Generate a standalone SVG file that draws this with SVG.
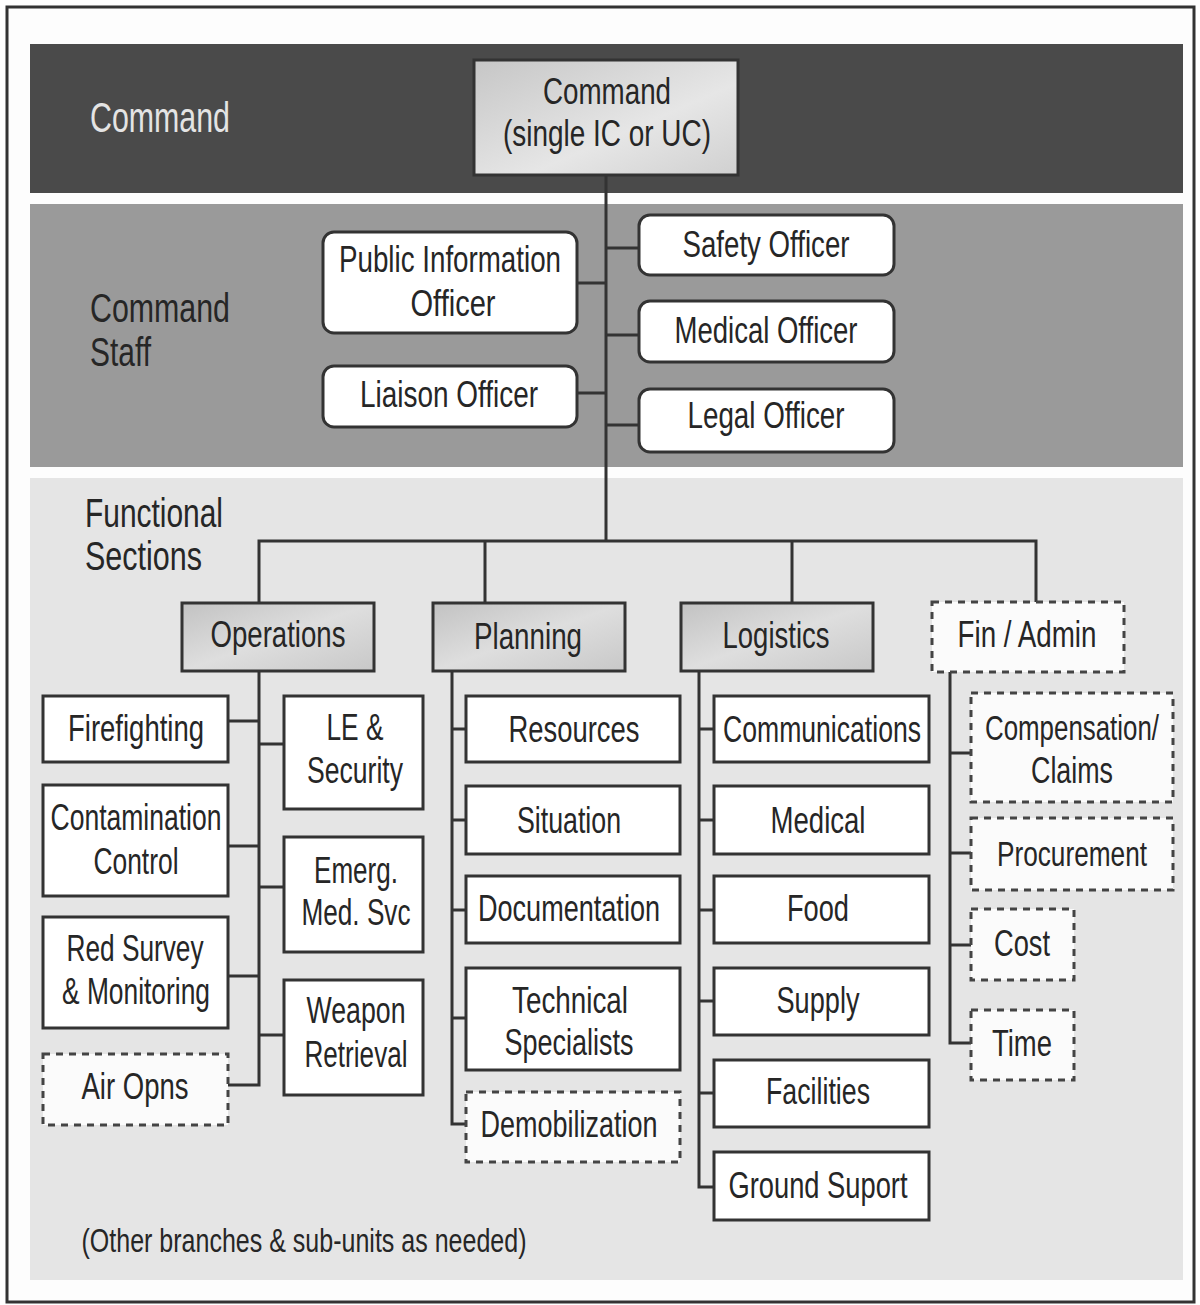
<svg xmlns="http://www.w3.org/2000/svg" width="1200" height="1305" viewBox="0 0 1200 1305">
<style>
.box{fill:#fff;stroke:#333;stroke-width:3}
.rbox{fill:#fff;stroke:#333;stroke-width:3}
.dash{fill:#fbfbfb;stroke:#444;stroke-width:3;stroke-dasharray:7 6}
.hdr{fill:url(#hg);stroke:#333;stroke-width:3}
.t{font-family:"Liberation Sans",Arial,Helvetica,sans-serif;font-size:37px;fill:#262626;text-anchor:middle}
.lbl{font-family:"Liberation Sans",Arial,Helvetica,sans-serif;font-size:40px;fill:#262626}
.conn{stroke:#333;stroke-width:3;fill:none}
</style>
<defs>
<linearGradient id="hg" x1="0" y1="0" x2="1" y2="1">
<stop offset="0" stop-color="#c2c2c2"/>
<stop offset="0.5" stop-color="#dedede"/>
<stop offset="1" stop-color="#c8c8c8"/>
</linearGradient>
<linearGradient id="cg" x1="0" y1="0" x2="1" y2="1">
<stop offset="0" stop-color="#c6c6c6"/>
<stop offset="0.6" stop-color="#e6e6e6"/>
<stop offset="1" stop-color="#d0d0d0"/>
</linearGradient>
</defs>

<g id="background">
<rect x="7" y="7" width="1187" height="1295" fill="#fdfdfd" stroke="#333" stroke-width="3"/>
<rect x="30" y="44" width="1153" height="149" fill="#4a4a4a"/>
<rect x="30" y="204" width="1153" height="263" fill="#9a9a9a"/>
<rect x="30" y="478" width="1153" height="802" fill="#e5e5e5"/>
<text class="lbl" x="90" y="132" textLength="140" lengthAdjust="spacingAndGlyphs" style="fill:#e4e4e4;font-size:42px">Command</text>
<text class="lbl" x="90" y="322" textLength="140" lengthAdjust="spacingAndGlyphs">Command</text>
<text class="lbl" x="90" y="366" textLength="61" lengthAdjust="spacingAndGlyphs">Staff</text>
<text class="lbl" x="85" y="527" textLength="138" lengthAdjust="spacingAndGlyphs">Functional</text>
<text class="lbl" x="85" y="570" textLength="117" lengthAdjust="spacingAndGlyphs">Sections</text>
<text class="t" x="304" y="1252" textLength="445" lengthAdjust="spacingAndGlyphs" style="font-size:34px">(Other branches &amp; sub-units as needed)</text>
</g>

<g id="connectors">
<path class="conn" d="M606 175V541"/>
<path class="conn" d="M577 283H606M577 393H606"/>
<path class="conn" d="M606 248H638M606 335H638M606 425H638"/>
<path class="conn" d="M259 603V541H1036V602M485 541V603M792 541V603"/>
<path class="conn" d="M259 671V1085H228M228 721H259M228 846H259M228 976H259M259 744H284M259 887H284M259 1035H284"/>
<path class="conn" d="M452 671V1124H466M452 729H466M452 820H466M452 910H466M452 1018H466"/>
<path class="conn" d="M699 671V1187H714M699 729H714M699 820H714M699 910H714M699 1001H714M699 1093H714"/>
<path class="conn" d="M950 672V1043H972M950 753H972M950 853H972M950 945H972"/>
</g>

<g id="command">
<rect x="474" y="60" width="264" height="115" fill="url(#cg)" stroke="#333" stroke-width="3"/>
<text class="t" x="607" y="104" textLength="128" lengthAdjust="spacingAndGlyphs">Command</text>
<text class="t" x="607" y="146" textLength="208" lengthAdjust="spacingAndGlyphs">(single IC or UC)</text>
</g>

<g id="pio">
<rect class="rbox" x="323" y="232" width="254" height="101" rx="11"/>
<text class="t" x="450" y="272" textLength="222" lengthAdjust="spacingAndGlyphs">Public Information</text>
<text class="t" x="453" y="316" textLength="85" lengthAdjust="spacingAndGlyphs">Officer</text>
</g>
<g id="liaison">
<rect class="rbox" x="323" y="366" width="254" height="61" rx="11"/>
<text class="t" x="449" y="407" textLength="178" lengthAdjust="spacingAndGlyphs">Liaison Officer</text>
</g>
<g id="safety">
<rect class="rbox" x="639" y="215" width="255" height="60" rx="11"/>
<text class="t" x="766" y="257" textLength="167" lengthAdjust="spacingAndGlyphs">Safety Officer</text>
</g>
<g id="medical-officer">
<rect class="rbox" x="639" y="301" width="255" height="61" rx="11"/>
<text class="t" x="766" y="343" textLength="183" lengthAdjust="spacingAndGlyphs">Medical Officer</text>
</g>
<g id="legal">
<rect class="rbox" x="639" y="389" width="255" height="63" rx="11"/>
<text class="t" x="766" y="428" textLength="157" lengthAdjust="spacingAndGlyphs">Legal Officer</text>
</g>

<g id="operations">
<rect class="hdr" x="182" y="603" width="192" height="68"/>
<text class="t" x="278" y="647" textLength="135" lengthAdjust="spacingAndGlyphs">Operations</text>
</g>
<g id="planning">
<rect class="hdr" x="433" y="603" width="192" height="68"/>
<text class="t" x="528" y="649" textLength="108" lengthAdjust="spacingAndGlyphs">Planning</text>
</g>
<g id="logistics">
<rect class="hdr" x="681" y="603" width="192" height="68"/>
<text class="t" x="776" y="648" textLength="107" lengthAdjust="spacingAndGlyphs">Logistics</text>
</g>
<g id="fin-admin">
<rect class="dash" x="932" y="602" width="192" height="70"/>
<text class="t" x="1027" y="647" textLength="139" lengthAdjust="spacingAndGlyphs">Fin / Admin</text>
</g>

<g id="firefighting">
<rect class="box" x="43" y="696" width="185" height="66"/>
<text class="t" x="136" y="741" textLength="136" lengthAdjust="spacingAndGlyphs">Firefighting</text>
</g>
<g id="contamination">
<rect class="box" x="43" y="785" width="185" height="111"/>
<text class="t" x="136" y="830" textLength="171" lengthAdjust="spacingAndGlyphs">Contamination</text>
<text class="t" x="136" y="874" textLength="85" lengthAdjust="spacingAndGlyphs">Control</text>
</g>
<g id="rad-survey">
<rect class="box" x="43" y="917" width="185" height="111"/>
<text class="t" x="135" y="961" textLength="137" lengthAdjust="spacingAndGlyphs">Red Survey</text>
<text class="t" x="136" y="1004" textLength="148" lengthAdjust="spacingAndGlyphs">&amp; Monitoring</text>
</g>
<g id="air-opns">
<rect class="dash" x="43" y="1054" width="185" height="71"/>
<text class="t" x="135" y="1099" textLength="107" lengthAdjust="spacingAndGlyphs">Air Opns</text>
</g>
<g id="le-security">
<rect class="box" x="284" y="696" width="139" height="113"/>
<text class="t" x="355" y="740" textLength="57" lengthAdjust="spacingAndGlyphs">LE &amp;</text>
<text class="t" x="355" y="783" textLength="96" lengthAdjust="spacingAndGlyphs">Security</text>
</g>
<g id="emerg-med">
<rect class="box" x="284" y="837" width="139" height="115"/>
<text class="t" x="356" y="883" textLength="84" lengthAdjust="spacingAndGlyphs">Emerg.</text>
<text class="t" x="356" y="925" textLength="109" lengthAdjust="spacingAndGlyphs">Med. Svc</text>
</g>
<g id="weapon">
<rect class="box" x="284" y="980" width="139" height="115"/>
<text class="t" x="356" y="1023" textLength="99" lengthAdjust="spacingAndGlyphs">Weapon</text>
<text class="t" x="356" y="1067" textLength="103" lengthAdjust="spacingAndGlyphs">Retrieval</text>
</g>

<g id="resources">
<rect class="box" x="466" y="696" width="214" height="66"/>
<text class="t" x="574" y="742" textLength="131" lengthAdjust="spacingAndGlyphs">Resources</text>
</g>
<g id="situation">
<rect class="box" x="466" y="786" width="214" height="68"/>
<text class="t" x="569" y="833" textLength="104" lengthAdjust="spacingAndGlyphs">Situation</text>
</g>
<g id="documentation">
<rect class="box" x="466" y="876" width="214" height="67"/>
<text class="t" x="569" y="921" textLength="182" lengthAdjust="spacingAndGlyphs">Documentation</text>
</g>
<g id="technical">
<rect class="box" x="466" y="968" width="214" height="102"/>
<text class="t" x="570" y="1013" textLength="116" lengthAdjust="spacingAndGlyphs">Technical</text>
<text class="t" x="569" y="1055" textLength="129" lengthAdjust="spacingAndGlyphs">Specialists</text>
</g>
<g id="demobilization">
<rect class="dash" x="466" y="1092" width="214" height="70"/>
<text class="t" x="569" y="1137" textLength="177" lengthAdjust="spacingAndGlyphs">Demobilization</text>
</g>

<g id="communications">
<rect class="box" x="714" y="696" width="215" height="66"/>
<text class="t" x="822" y="742" textLength="198" lengthAdjust="spacingAndGlyphs">Communications</text>
</g>
<g id="medical">
<rect class="box" x="714" y="786" width="215" height="68"/>
<text class="t" x="818" y="833" textLength="95" lengthAdjust="spacingAndGlyphs">Medical</text>
</g>
<g id="food">
<rect class="box" x="714" y="876" width="215" height="67"/>
<text class="t" x="818" y="921" textLength="62" lengthAdjust="spacingAndGlyphs">Food</text>
</g>
<g id="supply">
<rect class="box" x="714" y="968" width="215" height="67"/>
<text class="t" x="818" y="1013" textLength="83" lengthAdjust="spacingAndGlyphs">Supply</text>
</g>
<g id="facilities">
<rect class="box" x="714" y="1060" width="215" height="67"/>
<text class="t" x="818" y="1104" textLength="104" lengthAdjust="spacingAndGlyphs">Facilities</text>
</g>
<g id="ground-support">
<rect class="box" x="714" y="1152" width="215" height="68"/>
<text class="t" x="818" y="1198" textLength="179" lengthAdjust="spacingAndGlyphs">Ground Suport</text>
</g>

<g id="compensation">
<rect class="dash" x="971" y="693" width="202" height="109"/>
<text class="t" x="1072" y="740" textLength="174" lengthAdjust="spacingAndGlyphs" style="font-size:35px">Compensation/</text>
<text class="t" x="1072" y="783" textLength="82" lengthAdjust="spacingAndGlyphs">Claims</text>
</g>
<g id="procurement">
<rect class="dash" x="971" y="818" width="202" height="72"/>
<text class="t" x="1072" y="866" textLength="150" lengthAdjust="spacingAndGlyphs" style="font-size:35px">Procurement</text>
</g>
<g id="cost">
<rect class="dash" x="971" y="909" width="103" height="71"/>
<text class="t" x="1022" y="956" textLength="56" lengthAdjust="spacingAndGlyphs">Cost</text>
</g>
<g id="time">
<rect class="dash" x="971" y="1010" width="103" height="70"/>
<text class="t" x="1022" y="1056" textLength="60" lengthAdjust="spacingAndGlyphs">Time</text>
</g>
</svg>
